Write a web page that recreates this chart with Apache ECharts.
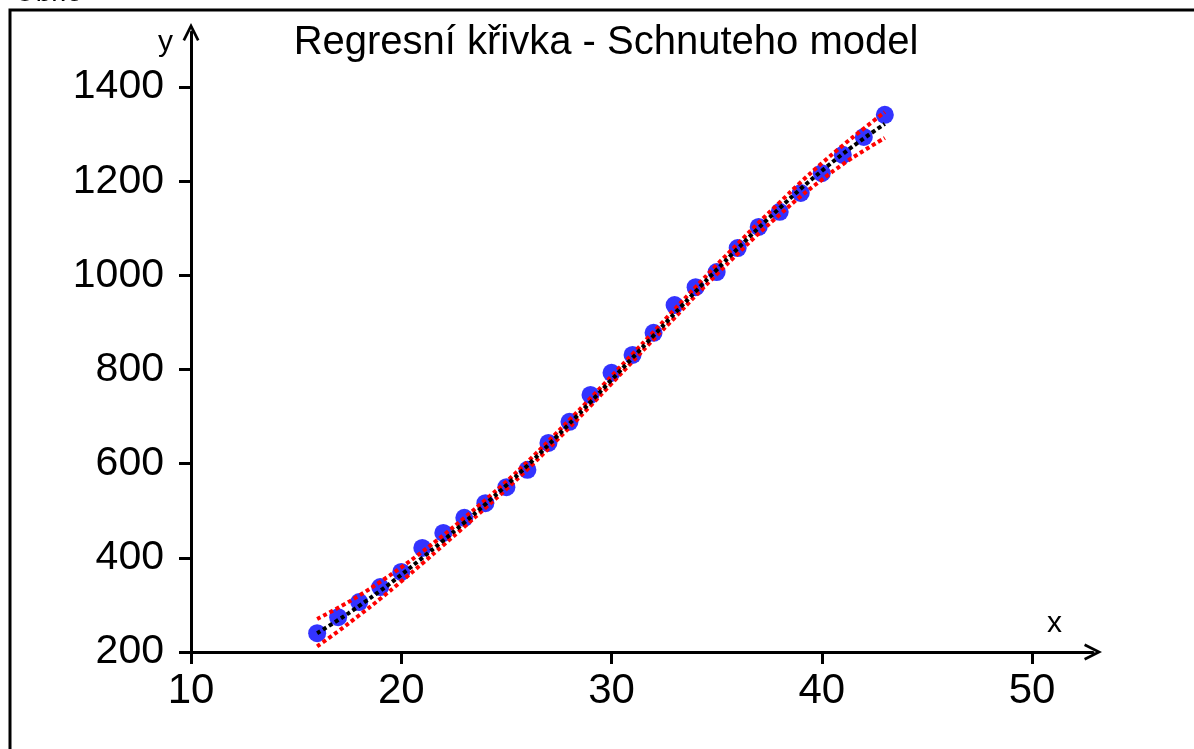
<!DOCTYPE html>
<html>
<head>
<meta charset="utf-8">
<script src="https://cdn.jsdelivr.net/npm/echarts@6/dist/echarts.min.js"></script>
<style>
html,body{margin:0;padding:0;background:#fff;}
#c{width:1194px;height:749px;}
</style>
</head>
<body>
<div id="c"></div>
<script>
// Data
const xs = [16,17,18,19,20,21,22,23,24,25,26,27,28,29,30,31,32,33,34,35,36,37,38,39,40,41,42,43];
const observed = [240,274,306,338,370,421,453,485,516,550,587,644,689,746,793,831,878,937,975,1007,1058,1103,1135,1175,1217,1256,1294,1341];
const fitted = [240,268,298,330,364,400,437,475,514,554,596,640,685,731,778,825,872,919,966,1012,1057,1101,1143,1184,1222,1258,1291,1322];
const upperBand = [270,294,320,349,380,413,448,485,523,562,604,648,693,739,786,833,880,928,975,1022,1067,1112,1155,1198,1238,1276,1312,1347];
const lowerBand = [212,244,278,313,350,388,427,466,506,546,588,632,677,723,770,817,864,910,957,1002,1046,1089,1129,1168,1203,1236,1265,1292];
const xTicks = [10,20,30,40,50];
const yTicks = [200,400,600,800,1000,1200,1400];
const titleText = 'Regresní křivka - Schnuteho model';
const figureLabel = 'Obr.5';

const pairs = (a) => xs.map((x, i) => [x, a[i]]);
const FONT = 'Liberation Sans, Arial, sans-serif';
const arrowPath = 'path://M0,14 L7,0 L14,14 L12,15 L7,5 L2,15 Z';
const ts = (size) => ({ fontFamily: FONT, fontSize: size, fontWeight: 'normal', color: '#000' });

const chart = echarts.init(document.getElementById('c'));
chart.setOption({
  animation: false,
  backgroundColor: '#ffffff',
  title: [
    { text: titleText, left: 606, top: 23, textAlign: 'center', padding: 0, textStyle: ts(40) },
    { text: figureLabel, left: 14, top: -21, padding: 0, textStyle: ts(28) },
    { text: 'y', left: 158, top: 28, padding: 0, textStyle: ts(30) },
    { text: 'x', left: 1047, top: 609, padding: 0, textStyle: ts(30) }
  ],
  graphic: [
    { type: 'rect', shape: { x: 10, y: 10, width: 1300, height: 800 },
      style: { fill: 'none', stroke: '#000', lineWidth: 3 } }
  ],
  grid: { left: 191, right: 101, top: 32, bottom: 97, containLabel: false },
  xAxis: {
    type: 'value', min: 10, max: 52.9, interval: 10,
    splitLine: { show: false },
    axisLine: { lineStyle: { color: '#000', width: 3 }, symbol: ['none', arrowPath], symbolSize: [18, 18] },
    axisTick: { customValues: xTicks, length: 12, lineStyle: { color: '#000', width: 3 } },
    axisLabel: { customValues: xTicks, margin: 18, fontFamily: FONT, fontSize: 42, color: '#000',
                 formatter: (v) => String(v) }
  },
  yAxis: {
    type: 'value', min: 200, max: 1517, interval: 200,
    splitLine: { show: false },
    axisLine: { lineStyle: { color: '#000', width: 3 }, symbol: ['none', arrowPath], symbolSize: [18, 18] },
    axisTick: { customValues: yTicks, length: 12, lineStyle: { color: '#000', width: 3 } },
    axisLabel: { customValues: yTicks, margin: 27, fontFamily: FONT, fontSize: 41, color: '#000',
                 formatter: (v) => String(v) }
  },
  series: [
    { type: 'scatter', data: pairs(observed), symbol: 'circle', symbolSize: 18,
      itemStyle: { color: '#0000ff' }, z: 2 },
    { type: 'line', data: pairs(upperBand), smooth: true, showSymbol: false,
      lineStyle: { color: '#ff0000', width: 4, type: [4, 3] }, z: 3 },
    { type: 'line', data: pairs(lowerBand), smooth: true, showSymbol: false,
      lineStyle: { color: '#ff0000', width: 4, type: [4, 3] }, z: 3 },
    { type: 'line', data: pairs(fitted), smooth: true, showSymbol: false,
      lineStyle: { color: '#000000', width: 4, type: [4, 3] }, z: 4 }
  ]
});
</script>
</body>
</html>
